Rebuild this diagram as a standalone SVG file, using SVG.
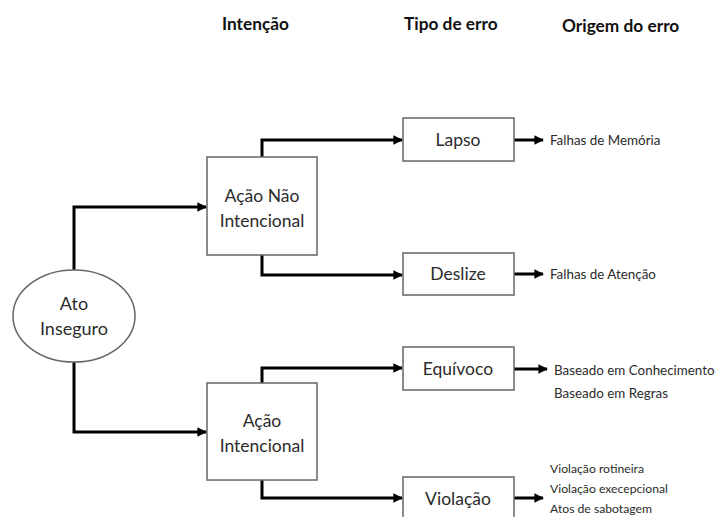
<svg xmlns="http://www.w3.org/2000/svg" width="720" height="517" viewBox="0 0 720 517">
  <style>
    text { font-family: Lato, "Open Sans", sans-serif; fill: #2b2b2b; }
    .hdr { font-size: 17.3px; font-weight: bold; fill: #111; }
    .lbl { font-size: 17.5px; text-anchor: middle; }
    .note { font-size: 13.4px; }
    .note2 { font-size: 13.4px; }
    .note3 { font-size: 12.2px; }
    .box { fill: #fff; stroke: #666; stroke-width: 1.5; }
    .wire { fill: none; stroke: #000; stroke-width: 3; }
  </style>
  <defs>
    <marker id="arrow" viewBox="0 0 10 10" refX="9" refY="5" markerWidth="3.2" markerHeight="3.2" orient="auto" markerUnits="strokeWidth">
      <path d="M0,0 L10,5 L0,10 z" fill="#000"/>
    </marker>
  </defs>
  <rect width="720" height="517" fill="#fff"/>

  <!-- column headings -->
  <text class="hdr" x="222" y="30">Intenção</text>
  <text class="hdr" x="404" y="30">Tipo de erro</text>
  <text class="hdr" x="562" y="32">Origem do erro</text>

  <!-- connectors -->
  <g id="connectors">
    <path class="wire" d="M74,270 V207 H206" marker-end="url(#arrow)"/>
    <path class="wire" d="M74,361 V432 H206" marker-end="url(#arrow)"/>
    <path class="wire" d="M262,157 V140 H402" marker-end="url(#arrow)"/>
    <path class="wire" d="M262,255 V275 H402" marker-end="url(#arrow)"/>
    <path class="wire" d="M262,383 V368 H402" marker-end="url(#arrow)"/>
    <path class="wire" d="M262,480 V498 H402" marker-end="url(#arrow)"/>
    <path class="wire" d="M514,140 H543" marker-end="url(#arrow)"/>
    <path class="wire" d="M514,274 H543" marker-end="url(#arrow)"/>
    <path class="wire" d="M514,369 H547" marker-end="url(#arrow)"/>
    <path class="wire" d="M514,498 H543" marker-end="url(#arrow)"/>
  </g>

  <g id="ato-inseguro">
    <ellipse cx="74" cy="316" rx="61" ry="46" fill="#fff" stroke="#666" stroke-width="1.5"/>
    <text class="lbl" x="74" y="310" style="font-size:18px">Ato</text>
    <text class="lbl" x="74" y="335" style="font-size:18px">Inseguro</text>
  </g>

  <g id="acao-nao-intencional">
    <rect class="box" x="207" y="157" width="110" height="98"/>
    <text class="lbl" x="262" y="202">Ação Não</text>
    <text class="lbl" x="262" y="227">Intencional</text>
  </g>

  <g id="acao-intencional">
    <rect class="box" x="207" y="383" width="110" height="97"/>
    <text class="lbl" x="262" y="427">Ação</text>
    <text class="lbl" x="262" y="452">Intencional</text>
  </g>

  <g id="lapso">
    <rect class="box" x="403" y="118" width="111" height="43"/>
    <text class="lbl" x="458" y="146">Lapso</text>
  </g>
  <g id="deslize">
    <rect class="box" x="403" y="253" width="111" height="42"/>
    <text class="lbl" x="458" y="280">Deslize</text>
  </g>
  <g id="equivoco">
    <rect class="box" x="403" y="347" width="111" height="43"/>
    <text class="lbl" x="458" y="375">Equívoco</text>
  </g>
  <g id="violacao">
    <rect class="box" x="403" y="477" width="111" height="50"/>
    <text class="lbl" x="458" y="505">Violação</text>
  </g>

  <!-- origins -->
  <g id="origem-lapso">
    <text class="note" x="550" y="145">Falhas de Memória</text>
  </g>
  <g id="origem-deslize">
    <text class="note" x="550" y="279">Falhas de Atenção</text>
  </g>
  <g id="origem-equivoco">
    <text class="note2" x="554" y="375">Baseado em Conhecimento</text>
    <text class="note2" x="554" y="398">Baseado em Regras</text>
  </g>
  <g id="origem-violacao">
    <text class="note3" x="550" y="473">Violação rotineira</text>
    <text class="note3" x="550" y="493">Violação execepcional</text>
    <text class="note3" x="550" y="513">Atos de sabotagem</text>
  </g>
</svg>
